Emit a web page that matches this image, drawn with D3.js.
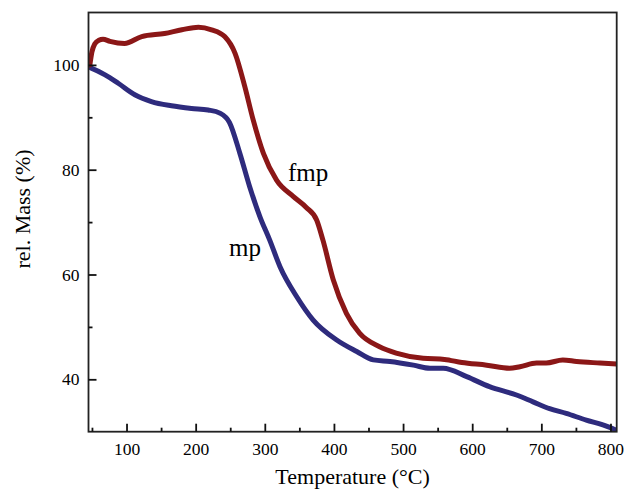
<!DOCTYPE html>
<html><head><meta charset="utf-8">
<script src="https://cdn.jsdelivr.net/npm/d3@7"></script>
<style>
html,body{margin:0;padding:0;background:#fff;}
text{font-family:"Liberation Serif","Times New Roman",serif;fill:#000;}
</style></head>
<body><svg id="c" width="626" height="492"></svg>
<script>
// Data
const fmpT = [47, 50, 54, 60, 66, 76, 97, 122, 155, 180, 204, 223, 242, 257, 271, 283, 298, 317, 341, 360, 375, 384, 399, 418, 437, 466, 490, 529, 560, 585, 621, 654, 669, 693, 707, 731, 751, 785, 809];
const fmpV = [100.0, 102.5, 104.0, 104.7, 104.9, 104.5, 104.1, 105.4, 106.0, 106.7, 107.2, 106.7, 105.4, 102.2, 95.9, 89.6, 83.1, 78.0, 74.9, 72.8, 70.4, 66.6, 59.0, 52.6, 48.8, 46.2, 45.0, 44.0, 43.8, 43.2, 42.7, 42.1, 42.4, 43.1, 43.1, 43.7, 43.4, 43.1, 42.9];
const mpT = [47, 49, 69, 88, 112, 136, 165, 194, 218, 235, 249, 264, 278, 293, 307, 322, 346, 370, 404, 433, 457, 481, 515, 539, 558, 592, 625, 664, 688, 712, 736, 765, 789, 803, 810];
const mpV = [99.5, 99.4, 98.1, 96.5, 94.3, 93.0, 92.2, 91.7, 91.4, 90.8, 89.0, 83.1, 76.8, 71.0, 66.6, 61.5, 55.8, 51.3, 47.5, 45.3, 43.7, 43.4, 42.7, 42.1, 42.1, 40.5, 38.6, 37.0, 35.7, 34.4, 33.5, 32.2, 31.3, 30.6, 30.2];
const xMajor = [100, 200, 300, 400, 500, 600, 700, 800];
const xMinor = [50, 150, 250, 350, 450, 550, 650, 750];
const yMajor = [40, 60, 80, 100];
const yMinor = [50, 70, 90];
const seriesNames = ["fmp", "mp"];

const L = 88.5, R = 616.7, T = 12.5, B = 431.7;
const x = d3.scaleLinear().domain([45, 809]).range([L, R]);
const y = d3.scaleLinear().domain([30, 110]).range([B, T]);
const svg = d3.select("#c");

svg.append("defs").append("clipPath").attr("id", "clip")
  .append("rect").attr("x", L).attr("y", T).attr("width", R - L).attr("height", B - T);

const line = d3.line().x(d => x(d[0])).y(d => y(d[1])).curve(d3.curveMonotoneX);
const series = [
  {name: "fmp", data: fmpT.map((t, i) => [t, fmpV[i]]), color: "#8b1717"},
  {name: "mp", data: mpT.map((t, i) => [t, mpV[i]]), color: "#2e2b7d"}
];
const g = svg.append("g").attr("clip-path", "url(#clip)");
series.slice().reverse().forEach(s => {
  g.append("path").attr("d", line(s.data)).attr("fill", "none")
    .attr("stroke", s.color).attr("stroke-width", 5)
    .attr("stroke-linejoin", "round").attr("stroke-linecap", "round");
});

// frame
svg.append("rect").attr("x", L).attr("y", T).attr("width", R - L).attr("height", B - T)
  .attr("fill", "none").attr("stroke", "#222").attr("stroke-width", 1.8);

// axes
const fs = "17.5px";
const xa = svg.append("g").attr("transform", `translate(0,${B})`)
  .call(d3.axisBottom(x).tickValues(xMajor).tickSize(-8).tickPadding(11).tickFormat(d3.format("d")));
const xm = svg.append("g").attr("transform", `translate(0,${B})`)
  .call(d3.axisBottom(x).tickValues(xMinor).tickSize(-4).tickFormat(""));
const ya = svg.append("g").attr("transform", `translate(${L},0)`)
  .call(d3.axisLeft(y).tickValues(yMajor).tickSize(-8).tickPadding(9).tickFormat(d3.format("d")));
const ym = svg.append("g").attr("transform", `translate(${L},0)`)
  .call(d3.axisLeft(y).tickValues(yMinor).tickSize(-4).tickFormat(""));
[xa, xm, ya, ym].forEach(a => {
  a.select(".domain").remove();
  a.selectAll("line").attr("stroke", "#111").attr("stroke-width", 1.8);
  a.selectAll("text").style("font-size", fs).style("font-family", "'Liberation Serif', serif").attr("fill", "#000");
});

// axis titles
svg.append("text").attr("x", (L + R) / 2).attr("y", 484).attr("text-anchor", "middle")
  .style("font-size", "22px").text("Temperature (°C)");
svg.append("text").attr("transform", "translate(30,209) rotate(-90)").attr("text-anchor", "middle")
  .style("font-size", "22px").text("rel. Mass (%)");

// series labels
svg.append("text").attr("x", 288).attr("y", 181).style("font-size", "25px").text(seriesNames[0]);
svg.append("text").attr("x", 229).attr("y", 256).style("font-size", "25px").text(seriesNames[1]);
</script></body></html>
